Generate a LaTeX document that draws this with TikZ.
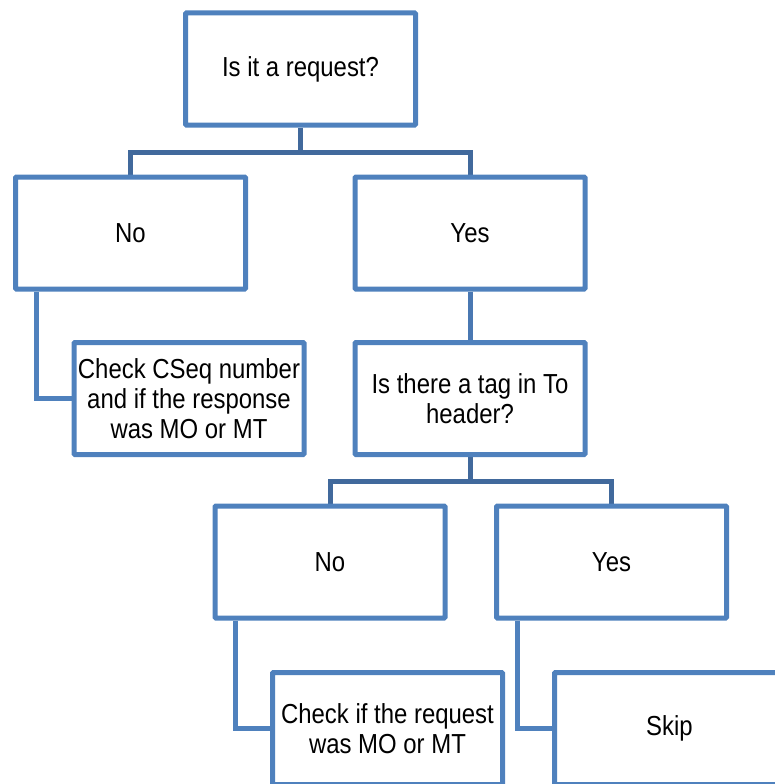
\documentclass[tikz,border=0pt]{standalone}
\usepackage{fontspec}
\setmainfont{Liberation Sans}[FakeStretch=0.87]
\usetikzlibrary{backgrounds}

\definecolor{boxblue}{HTML}{4F81BD}
\definecolor{barblue}{HTML}{41699C}
\definecolor{linkblue}{HTML}{4A78B2}

\tikzset{
  stepbox/.style={draw=boxblue, line width=5pt, fill=white, rectangle,
    rounded corners=1pt, minimum width=230pt, minimum height=112pt,
    inner sep=2pt, align=center, text=black,
    font=\fontsize{27.5}{30}\selectfont},
  bar/.style={draw=barblue, line width=5pt},
  link/.style={draw=linkblue, line width=5pt},
  elbow/.style={draw=boxblue, line width=5pt},
}

\begin{document}
\begin{tikzpicture}[x=1pt, y=-1pt]
\useasboundingbox (0,0) rectangle (775,784);
\clip (0,0) rectangle (775,784);

% decision boxes
\node[stepbox] (q1)   at (300.5,69)   {Is it a request?};
\node[stepbox] (no1)  at (130.5,233)  {No};
\node[stepbox] (yes1) at (470,233)    {Yes};
\node[stepbox] (chk1) at (189,398.5)  {Check CSeq number\\and if the response\\was MO or MT};
\node[stepbox] (q2)   at (470,398.5)  {Is there a tag in To\\header?};
\node[stepbox] (no2)  at (330,562)    {No};
\node[stepbox] (yes2) at (611.5,562)  {Yes};
\node[stepbox] (chk2) at (387.5,728.5){Check if the request\\was MO or MT};
\node[stepbox] (skip) at (669.5,728.5){Skip};

% branching points of the two trees
\coordinate (b1) at (300.5,152);
\coordinate (b2) at (470,481);

\begin{scope}[on background layer]
  \draw[bar] (q1.south) -- (b1);
  \draw[bar] (no1.north) |- (b1) -| (yes1.north);
  \draw[elbow] (no1.south west) ++(23,0) |- (chk1.west);
  \draw[link] (yes1.south) -- (q2.north);
  \draw[bar] (q2.south) -- (b2);
  \draw[bar] (no2.north) |- (b2) -| (yes2.north);
  \draw[elbow] (no2.south west) ++(23,0) |- (chk2.west);
  \draw[elbow] (yes2.south west) ++(23,0) |- (skip.west);
\end{scope}
\end{tikzpicture}
\end{document}
